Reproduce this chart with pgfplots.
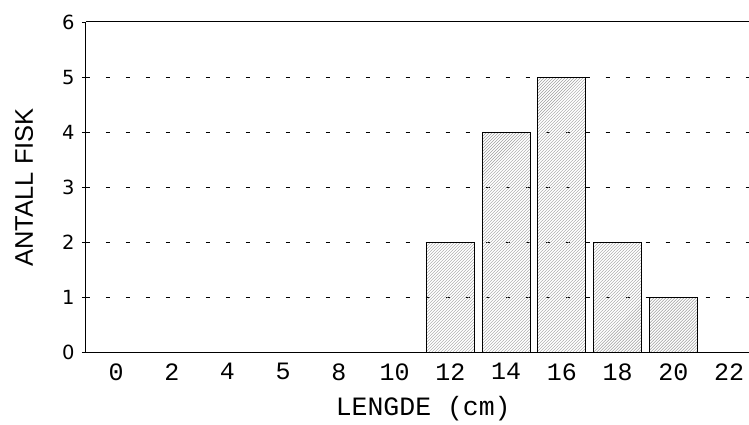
\documentclass[border=0pt]{standalone}
\usepackage{pgfplots}
\pgfplotsset{compat=1.18}
\usepackage{fontspec}
\setmainfont{Liberation Sans}
\newfontfamily\monofont{Liberation Mono}
\newfontfamily\dejavu{DejaVu Sans}
\usetikzlibrary{patterns}
\begin{document}
\begin{tikzpicture}
\path (-86pt,-67pt) rectangle (663pt,353pt);
\begin{axis}[
  at={(0,0)}, anchor=south west,
  scale only axis, width=663pt, height=331pt,
  xmin=-0.54, xmax=11.35, ymin=0, ymax=6,
  axis lines=left, axis line style={-, line width=1pt},
  xtick={0,1,2,3,4,5,6,7,8,9,10,11},
  xticklabels={0,2,4,5,8,10,12,14,16,18,20,22},
  xtick style={draw=none},
  xticklabel style={font=\monofont\fontsize{25}{25}\selectfont, yshift=-3pt},
  ytick={0,1,2,3,4,5},
  extra y ticks={6},
  extra y tick style={grid style={solid, line width=1pt, black}},
  yticklabel style={font=\dejavu\fontsize{19.5}{19.5}\selectfont, xshift=-4pt},
  /pgf/number format/assume math mode=true,
  tick align=outside, major tick length=4pt,
  ytick style={black, line width=0.8pt},
  ymajorgrids, grid style={black, line width=0.8pt, dash pattern=on 4pt off 16pt},
  xlabel={LENGDE (cm)},
  xlabel style={font=\monofont\fontsize{26.5}{26.5}\selectfont, yshift=-9pt, xshift=6pt},
  ylabel={ANTALL FISK},
  ylabel style={font=\fontsize{25.5}{25.5}\selectfont, yshift=14pt},
  ybar, bar width=48pt,
]
\addplot[draw=black, line width=1pt, pattern=north east lines, pattern color=gray!75]
  coordinates {(0,0) (1,0) (2,0) (3,0) (4,0) (5,0) (6,2) (7,4) (8,5) (9,2) (10,1) (11,0)};
\end{axis}
\end{tikzpicture}
\end{document}
